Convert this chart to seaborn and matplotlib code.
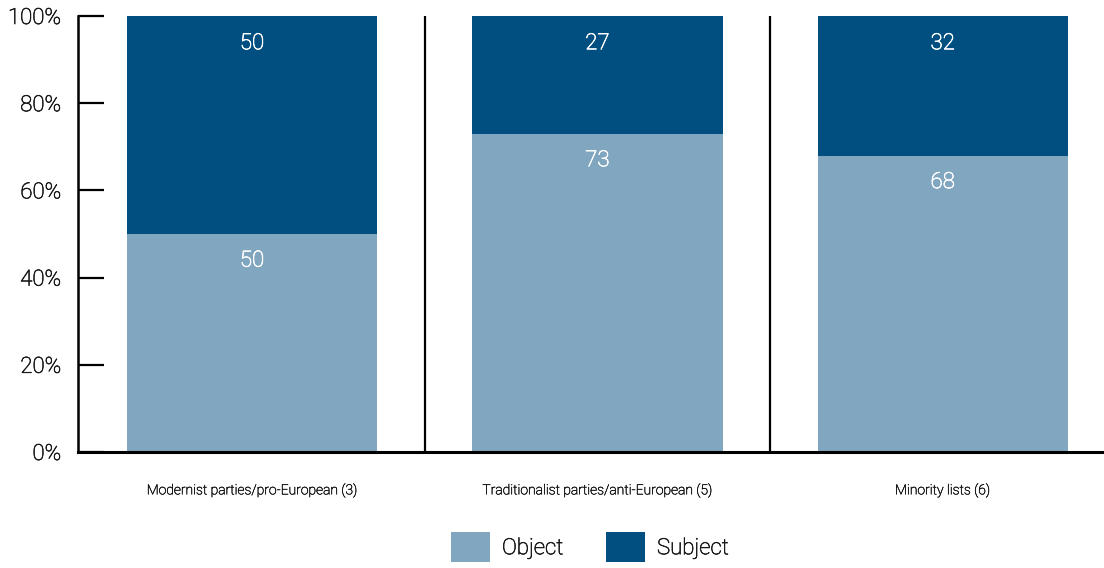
import matplotlib
matplotlib.use("Agg")
import matplotlib.pyplot as plt
import matplotlib.patheffects as pe
import seaborn as sns
import pandas as pd
from matplotlib.patches import Patch

categories = ["Modernist parties/pro-European (3)",
              "Traditionalist parties/anti-European (5)",
              "Minority lists (6)"]
object_share = [50, 73, 68]
subject_share = [50, 27, 32]
y_ticks = [0, 20, 40, 60, 80, 100]
legend_labels = ["Object", "Subject"]

light_blue = "#80A6C0"
dark_blue = "#004F80"
text_color = "#1a1a1a"

sns.set_theme(style="white")
plt.rcParams["font.family"] = ["Roboto", "DejaVu Sans"]


def firm(color, w=0.45):
    # light face, slightly thickened strokes
    return [pe.withStroke(linewidth=w, foreground=color)]


df = pd.DataFrame({
    "category": categories,
    "object": object_share,
    "subject": subject_share,
})
df["total"] = df["object"] + df["subject"]

fig = plt.figure(figsize=(11.04, 5.68), dpi=100)
ax = fig.add_axes([78 / 1104, 116 / 568, 1026 / 1104, 436 / 568])

# stacked bars: full height in dark blue, object share on top in light blue
sns.barplot(data=df, x="category", y="total", color=dark_blue, width=0.725,
            saturation=1, linewidth=0, ax=ax)
sns.barplot(data=df, x="category", y="object", color=light_blue, width=0.725,
            saturation=1, linewidth=0, ax=ax)

ax.set_xlim(-0.504, 2.467)
ax.set_ylim(0, 100)
ax.set_xlabel("")
ax.set_ylabel("")

# value labels near the top of each segment
for i, (o, s) in enumerate(zip(object_share, subject_share)):
    ax.annotate(f"{s}", xy=(i, o + s), xytext=(0, -20), textcoords="offset points",
                ha="center", va="center", color="white", fontsize=16,
                fontweight="light", path_effects=firm("white", 0.5))
    ax.annotate(f"{o}", xy=(i, o), xytext=(0, -19.5), textcoords="offset points",
                ha="center", va="center", color="white", fontsize=16,
                fontweight="light", path_effects=firm("white", 0.5))

# separators between categories
for xs in [0.5, 1.5]:
    ax.plot([xs, xs], [0, 100], color="black", linewidth=1.6, solid_capstyle="butt",
            clip_on=False, zorder=5)

ax.set_yticks(y_ticks)
ax.set_yticklabels([f"{t}%" for t in y_ticks], fontsize=16, fontweight="light",
                   color=text_color)
for lbl in ax.get_yticklabels():
    lbl.set_path_effects(firm(text_color))
ax.tick_params(axis="y", direction="in", length=19, width=1.6, color="black",
               pad=12, left=True)
ax.tick_params(axis="x", length=0, pad=22)
for lbl in ax.get_xticklabels():
    lbl.set_fontsize(10)
    lbl.set_fontweight("light")
    lbl.set_color(text_color)
    lbl.set_path_effects(firm(text_color, 0.35))

for side in ["top", "right"]:
    ax.spines[side].set_visible(False)
ax.spines["left"].set_color("black")
ax.spines["left"].set_linewidth(1.8)
ax.spines["bottom"].set_color("black")
ax.spines["bottom"].set_linewidth(2.2)
ax.spines["bottom"].set_zorder(6)

handles = [Patch(facecolor=light_blue, edgecolor="none"),
           Patch(facecolor=dark_blue, edgecolor="none")]
leg = fig.legend(handles, legend_labels, loc="center", bbox_to_anchor=(590 / 1104, 1 - 547 / 568),
                 ncol=2, frameon=False, handlelength=1.75, handleheight=1.75,
                 handletextpad=0.55, columnspacing=1.9, prop={"weight": "light", "size": 16})
for t in leg.get_texts():
    t.set_color(text_color)
    t.set_path_effects(firm(text_color))

fig.savefig("out.png", dpi=100)
